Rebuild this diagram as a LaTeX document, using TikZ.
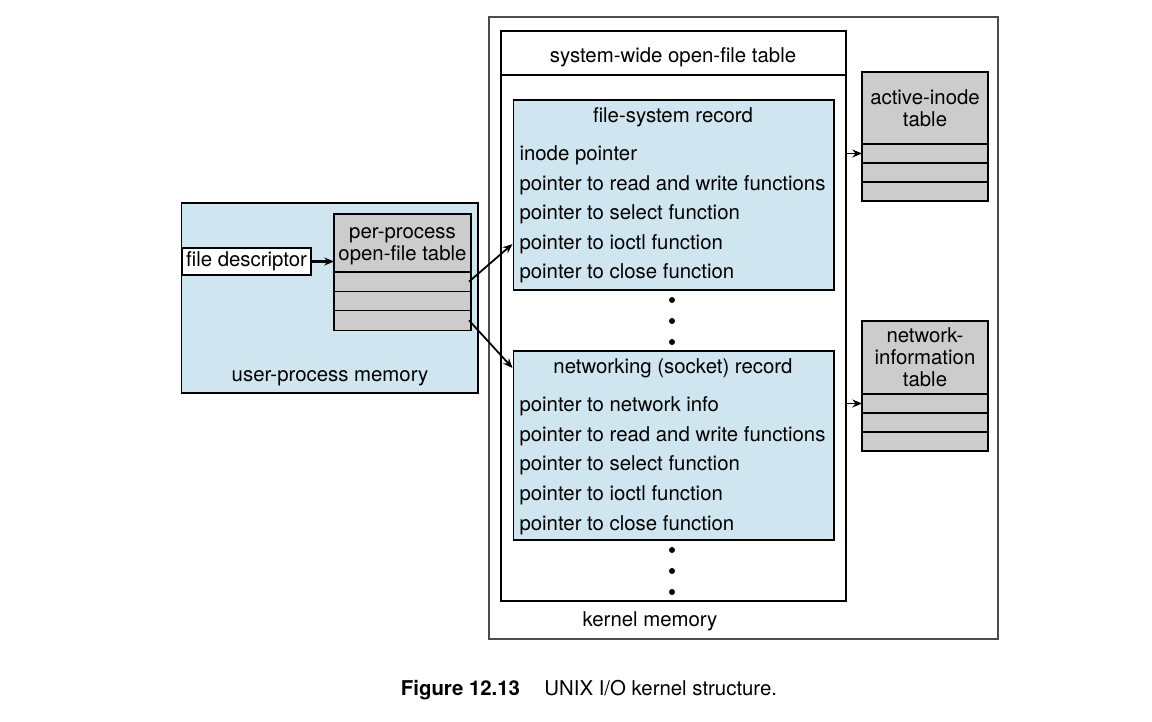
\documentclass[tikz,border=0pt]{standalone}
\usepackage{fontspec}
\setmainfont{TeX Gyre Heros}
\usetikzlibrary{arrows.meta, positioning}

\definecolor{recblue}{RGB}{207,229,239}
\definecolor{tblgray}{RGB}{204,204,204}

\begin{document}
\begin{tikzpicture}[x=0.02cm, y=-0.02cm, line width=0.6pt,
    font=\fontsize{11.6}{12.5}\selectfont,
    ptr/.style={-{Stealth[length=5.5pt,width=4.5pt]}, line width=1pt},
    tblhead/.style={draw, fill=tblgray, inner sep=0pt, outer sep=0pt, align=center},
    tblrow/.style={draw, fill=tblgray, inner sep=0pt, outer sep=0pt, minimum height=0.38cm},
    recbox/.style={draw, fill=recblue, inner sep=0pt, minimum width=6.42cm},
    recline/.style={anchor=west, inner sep=0pt}]
    \useasboundingbox (0,0) rectangle (1152,722);

    % kernel side
    \draw[black!70] (489,17) rectangle (998,639);
    \node (kmem) at (650,621) {kernel memory};
    \node[draw, line width=1.5pt, inner sep=0pt, minimum width=6.9cm, minimum height=11.4cm] (sysw) at (673.5,316) {};
    \draw (501,75) -- (846,75);
    \node (swtitle) at (673,57) {system-wide open-file table};

    \node[recbox, minimum height=3.8cm] (fsrec) at (673.5,195) {};
    \node (fstitle) at (673,117) {file-system record};
    \node[recline] (fs1) at (519,155) {inode pointer};
    \node[recline] (fs2) at (519,185) {pointer to read and write functions};
    \node[recline] (fs3) at (519,214) {pointer to select function};
    \node[recline] (fs4) at (519,244) {pointer to ioctl function};
    \node[recline] (fs5) at (519,273) {pointer to close function};
    \foreach \y in {300,321,342} \fill (672,\y) circle (1.7pt);

    \node[recbox, minimum height=3.78cm] (netrec) at (673.5,445.5) {};
    \node (nettitle) at (673,368) {networking (socket) record};
    \node[recline] (net1) at (519,406) {pointer to network info};
    \node[recline] (net2) at (519,436) {pointer to read and write functions};
    \node[recline] (net3) at (519,465) {pointer to select function};
    \node[recline] (net4) at (519,495) {pointer to ioctl function};
    \node[recline] (net5) at (519,525) {pointer to close function};
    \foreach \y in {550,571,592} \fill (672,\y) circle (1.7pt);

    \node[tblhead, minimum width=2.52cm, minimum height=1.44cm] (aihead) at (925,108) {active-inode\\table};
    \node[tblrow, minimum width=2.52cm, below=0pt of aihead] (ai1) {};
    \node[tblrow, minimum width=2.52cm, below=0pt of ai1] (ai2) {};
    \node[tblrow, minimum width=2.52cm, below=0pt of ai2] (ai3) {};

    \node[tblhead, minimum width=2.52cm, minimum height=1.46cm] (nihead) at (925,357.5) {network-\\information\\table};
    \node[tblrow, minimum width=2.52cm, below=0pt of nihead] (ni1) {};
    \node[tblrow, minimum width=2.52cm, below=0pt of ni1] (ni2) {};
    \node[tblrow, minimum width=2.52cm, below=0pt of ni2] (ni3) {};

    % user side
    \node[draw, fill=recblue, inner sep=0pt, minimum width=5.94cm, minimum height=3.8cm] (upm) at (329.5,298) {};
    \node (upmlabel) at (330,378) {user-process memory};
    \node[draw, fill=white, inner sep=0pt, minimum width=2.58cm, minimum height=0.54cm] (fd) at (246.5,261.5) {file descriptor};

    \node[tblhead, minimum width=2.74cm, minimum height=1.16cm] (pphead) at (402.5,243) {};
    \node[align=center, inner sep=0pt] (pptitle) at (402.5,246) {per-process\\open-file table};
    \node[tblrow, minimum width=2.74cm, minimum height=0.387cm, below=0pt of pphead] (pp1) {};
    \node[tblrow, minimum width=2.74cm, minimum height=0.387cm, below=0pt of pp1] (pp2) {};
    \node[tblrow, minimum width=2.74cm, minimum height=0.387cm, below=0pt of pp2] (pp3) {};

    \draw[ptr, line width=1.3pt] (fd) -- (pphead.west |- fd);
    \draw[ptr] ([xshift=-0.04cm]pp1.east) -- (fsrec.west |- fs4);
    \draw[ptr] ([xshift=-0.04cm]pp3.east) -- (netrec.west |- nettitle);
    \draw[ptr] (sysw.east |- ai1) -- (ai1.west);
    \draw[ptr] (sysw.east |- ni1) -- (ni1.west);

    \node (cap) at (589,690) {\textbf{Figure 12.13}\hspace{1.2em}UNIX I/O kernel structure.};
\end{tikzpicture}
\end{document}
